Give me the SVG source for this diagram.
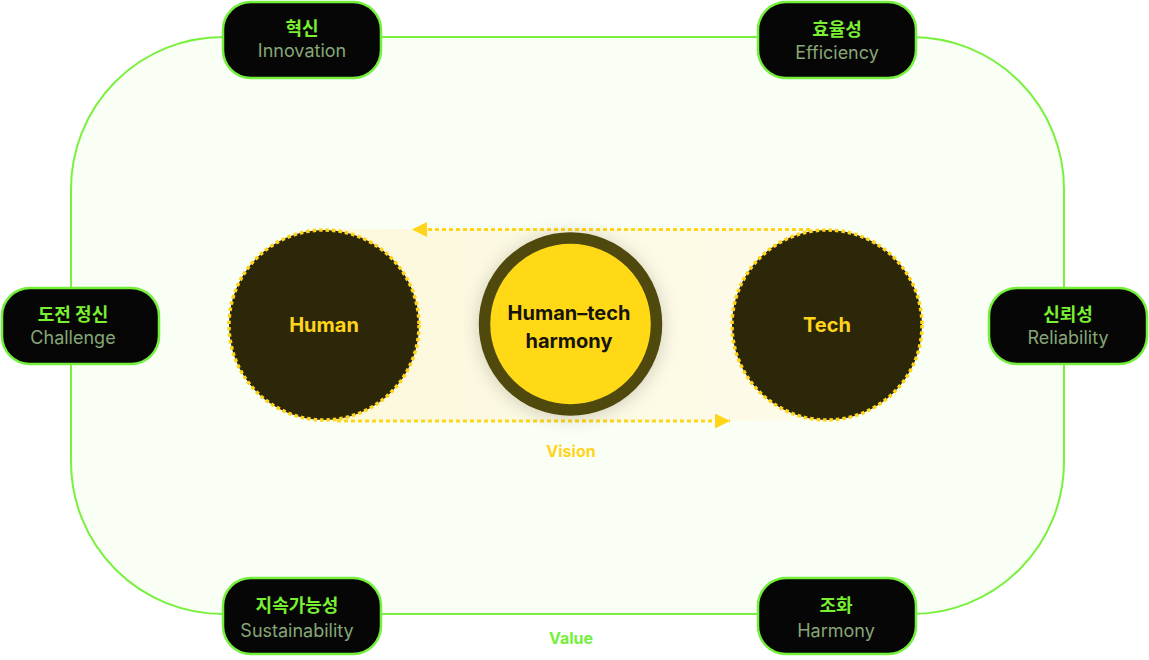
<svg xmlns="http://www.w3.org/2000/svg" width="1149" height="660" viewBox="0 0 1149 660">
<style>
.val rect{fill:#060606;stroke:#74f03c;stroke-width:2.5}
.t{font-family:Inter,"Noto Sans CJK KR",sans-serif;font-weight:700;font-size:18px;fill:#7af032;text-anchor:middle}
.s{font-family:Inter,"Noto Sans CJK KR",sans-serif;font-weight:400;font-size:18px;fill:#86a677;text-anchor:middle}
.c{font-family:Inter,"Liberation Sans",sans-serif;font-weight:700;font-size:20px;fill:#ffd41c;text-anchor:middle}
.dash{fill:none;stroke:#ffd51a;stroke-width:3;stroke-dasharray:4 3}
.ring{fill:#2d2709;stroke:#ffd51a;stroke-width:3.5;stroke-dasharray:3.5 3}
.lbl{font-family:Inter,"Liberation Sans",sans-serif;font-weight:700;font-size:16px;text-anchor:middle}
</style>
<defs>
<linearGradient id="band" x1="0" y1="0" x2="1" y2="0">
<stop offset="0" stop-color="#fcf8dc"/>
<stop offset="1" stop-color="#fdfbea"/>
</linearGradient>
<filter id="sh" x="-30%" y="-30%" width="160%" height="160%">
<feDropShadow dx="0" dy="2" stdDeviation="9" flood-color="#000" flood-opacity="0.18"/>
</filter>
<marker id="ah" viewBox="0 0 15 15" refX="15" refY="7.5" markerWidth="15" markerHeight="15" markerUnits="userSpaceOnUse" orient="auto">
<path d="M0,0 L15,7.5 L0,15 Z" fill="#ffd51a"/>
</marker>
</defs>
<rect width="1149" height="660" fill="#ffffff"/>
<rect id="frame" x="71" y="37" width="993" height="577" rx="152" fill="#f9fff5" stroke="#7af03e" stroke-width="2"/>
<rect x="324" y="229" width="503" height="192" fill="url(#band)"/>
<g id="connectors">
<line class="dash" x1="810" y1="229.5" x2="412" y2="229.5" marker-end="url(#ah)"/>
<line class="dash" x1="337" y1="421" x2="730" y2="421" marker-end="url(#ah)"/>
</g>
<g id="human">
<circle class="ring" cx="324" cy="325" r="95"/>
<text class="c" x="324" y="332">Human</text>
</g>
<g id="tech">
<circle class="ring" cx="827" cy="325" r="95"/>
<text class="c" x="827" y="332">Tech</text>
</g>
<g id="harmony">
<circle cx="570.5" cy="324" r="86" fill="#ffd916" stroke="#4f4a0e" stroke-width="11.5" filter="url(#sh)"/>
<text class="c" x="569" y="320" style="fill:#16140a">Human–tech</text>
<text class="c" x="569" y="348" style="fill:#16140a">harmony</text>
</g>
<text class="lbl" x="571" y="457" fill="#ffd41c">Vision</text>
<text class="lbl" x="571" y="644" fill="#74f03c">Value</text>
<g id="innovation" class="val">
<rect x="223" y="2" width="158" height="76" rx="28"/>
<text class="t" x="302" y="35">혁신</text>
<text class="s" x="302" y="57">Innovation</text>
</g>
<g id="efficiency" class="val">
<rect x="758" y="2" width="158" height="76" rx="28"/>
<text class="t" x="837" y="36">효율성</text>
<text class="s" x="837" y="59">Efficiency</text>
</g>
<g id="challenge" class="val">
<rect x="2" y="288" width="157" height="76" rx="28"/>
<text class="t" x="73" y="321">도전 정신</text>
<text class="s" x="73" y="344">Challenge</text>
</g>
<g id="reliability" class="val">
<rect x="989" y="288" width="158" height="76" rx="28"/>
<text class="t" x="1068" y="321">신뢰성</text>
<text class="s" x="1068" y="344">Reliability</text>
</g>
<g id="sustainability" class="val">
<rect x="223" y="578" width="158" height="76" rx="28"/>
<text class="t" x="297" y="612">지속가능성</text>
<text class="s" x="297" y="637">Sustainability</text>
</g>
<g id="harmony-value" class="val">
<rect x="758" y="578" width="158" height="76" rx="28"/>
<text class="t" x="836" y="612">조화</text>
<text class="s" x="836" y="637">Harmony</text>
</g>
</svg>
